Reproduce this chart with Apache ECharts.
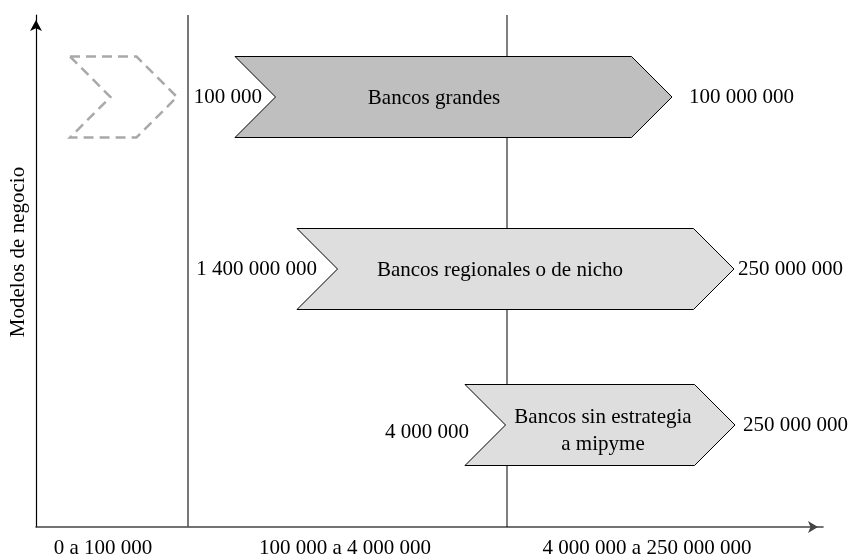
<!DOCTYPE html>
<html>
<head>
<meta charset="utf-8">
<script src="https://cdn.jsdelivr.net/npm/echarts@6/dist/echarts.min.js"></script>
<style>
  html, body { margin: 0; padding: 0; background: #fff; }
  #main { width: 851px; height: 556px; }
</style>
</head>
<body>
<div id="main"></div>
<script>
// rangos de tamano (eje x) y separadores entre ellos
var bandLabels = ['0 a 100 000', '100 000 a 4 000 000', '4 000 000 a 250 000 000'];
var bandCenters = [67, 309, 611];
var bandBreaks = [152, 471];

// modelos de negocio (flechas)
var modelNames = ['', 'Bancos grandes', 'Bancos regionales o de nicho', 'Bancos sin estrategia\na mipyme'];
var modelStart = [34, 199, 261, 429];
var modelEnd = [141, 636, 698, 699];
var modelRow = [430, 430, 258, 102];
var modelTextX = [0, 398, 464, 567];
var fromLabels = ['', '100 000', '1 400 000 000', '4 000 000'];
var fromLabelX = [0, 226, 281, 433];
var toLabels = ['', '100 000 000', '250 000 000', '250 000 000'];
var toLabelX = [0, 653, 702, 707];
var modelKind = ['ghost', 'dark', 'light', 'light'];

var yTitle = 'Modelos de negocio';

var FONT = '"Liberation Serif", "DejaVu Serif", serif';
var FS = 21;
var H = 81; // alto de la flecha en px

var chart = echarts.init(document.getElementById('main'));

var modelData = modelNames.map(function (n, i) {
  return [modelStart[i], modelEnd[i], modelRow[i], modelTextX[i], fromLabelX[i], toLabelX[i], i];
});

function renderModel(params, api) {
  var i = api.value(6);
  var p0 = api.coord([api.value(0), api.value(2)]);
  var p1 = api.coord([api.value(1), api.value(2)]);
  var h = H / 2;
  var x0 = p0[0], x1 = p1[0], yc = p0[1];
  var pts = [
    [x0, yc - h], [x1 - h, yc - h], [x1, yc],
    [x1 - h, yc + h], [x0, yc + h], [x0 + h, yc]
  ];
  var kind = modelKind[i];
  var children = [];
  if (kind === 'ghost') {
    children.push({
      type: 'polygon',
      shape: { points: pts },
      style: { fill: 'none', stroke: '#a9a9a9', lineWidth: 2.5, lineDash: [10, 6] }
    });
    return { type: 'group', children: children };
  }
  children.push({
    type: 'polygon',
    shape: { points: pts },
    style: { fill: kind === 'dark' ? '#bfbfbf' : '#dedede', stroke: '#000', lineWidth: 1 }
  });
  var tc = api.coord([api.value(3), api.value(2)]);
  var multi = modelNames[i].indexOf('\n') >= 0;
  children.push({
    type: 'text',
    x: tc[0], y: tc[1] + (multi ? 6 : 1),
    style: { text: modelNames[i], fill: '#000', font: FS + 'px ' + FONT, align: 'center', verticalAlign: 'middle', lineHeight: 27 }
  });
  var fc = api.coord([api.value(4), api.value(2)]);
  children.push({
    type: 'text',
    x: fc[0], y: fc[1] + (multi ? 7 : 0),
    style: { text: fromLabels[i], fill: '#000', font: FS + 'px ' + FONT, align: 'right', verticalAlign: 'middle' }
  });
  var ec = api.coord([api.value(5), api.value(2)]);
  children.push({
    type: 'text',
    x: ec[0], y: ec[1],
    style: { text: toLabels[i], fill: '#000', font: FS + 'px ' + FONT, align: 'left', verticalAlign: 'middle' }
  });
  return { type: 'group', children: children };
}

function renderBreak(params, api) {
  var top = api.coord([api.value(0), 512]);
  var bot = api.coord([api.value(0), 0]);
  var idx = params.dataIndex;
  return {
    type: 'line',
    shape: { x1: top[0], y1: top[1], x2: bot[0], y2: bot[1] },
    style: { stroke: idx === 0 ? '#555' : '#000', lineWidth: idx === 0 ? 1.6 : 1 }
  };
}

function renderBand(params, api) {
  var p = api.coord([api.value(0), 0]);
  return {
    type: 'text',
    x: p[0], y: p[1] + 21,
    style: { text: bandLabels[params.dataIndex], fill: '#000', font: FS + 'px ' + FONT, align: 'center', verticalAlign: 'middle' }
  };
}

function renderTitle(params, api) {
  var p = api.coord([0, api.value(0)]);
  return {
    type: 'text',
    x: p[0] - 18, y: p[1],
    rotation: Math.PI / 2,
    style: { text: yTitle, fill: '#000', font: FS + 'px ' + FONT, align: 'center', verticalAlign: 'middle' }
  };
}

var option = {
  backgroundColor: '#fff',
  animation: false,
  grid: { left: 36, right: 28, top: 15, bottom: 29 },
  xAxis: {
    type: 'value', min: 0, max: 787,
    splitLine: { show: false }, axisTick: { show: false }, axisLabel: { show: false },
    axisLine: {
      show: true, onZero: false,
      symbol: ['none', 'arrow'], symbolSize: [9, 10], symbolOffset: [0, -5],
      lineStyle: { color: '#444', width: 1.6 }
    }
  },
  yAxis: {
    type: 'value', min: 0, max: 512,
    splitLine: { show: false }, axisTick: { show: false }, axisLabel: { show: false },
    axisLine: {
      show: true, onZero: false,
      symbol: ['none', 'arrow'], symbolSize: [9, 11], symbolOffset: [0, -5],
      lineStyle: { color: '#000', width: 1.2 }
    }
  },
  series: [
    {
      type: 'custom', clip: false, silent: true, z: 1,
      renderItem: renderBreak,
      data: bandBreaks.map(function (v) { return [v]; })
    },
    {
      type: 'custom', clip: false, silent: true, z: 2,
      renderItem: renderModel,
      encode: { x: [0, 1], y: 2 },
      data: modelData
    },
    {
      type: 'custom', clip: false, silent: true, z: 3,
      renderItem: renderBand,
      data: bandCenters.map(function (v) { return [v]; })
    },
    {
      type: 'custom', clip: false, silent: true, z: 3,
      renderItem: renderTitle,
      data: [[275]]
    }
  ]
};

chart.setOption(option);
</script>
</body>
</html>
